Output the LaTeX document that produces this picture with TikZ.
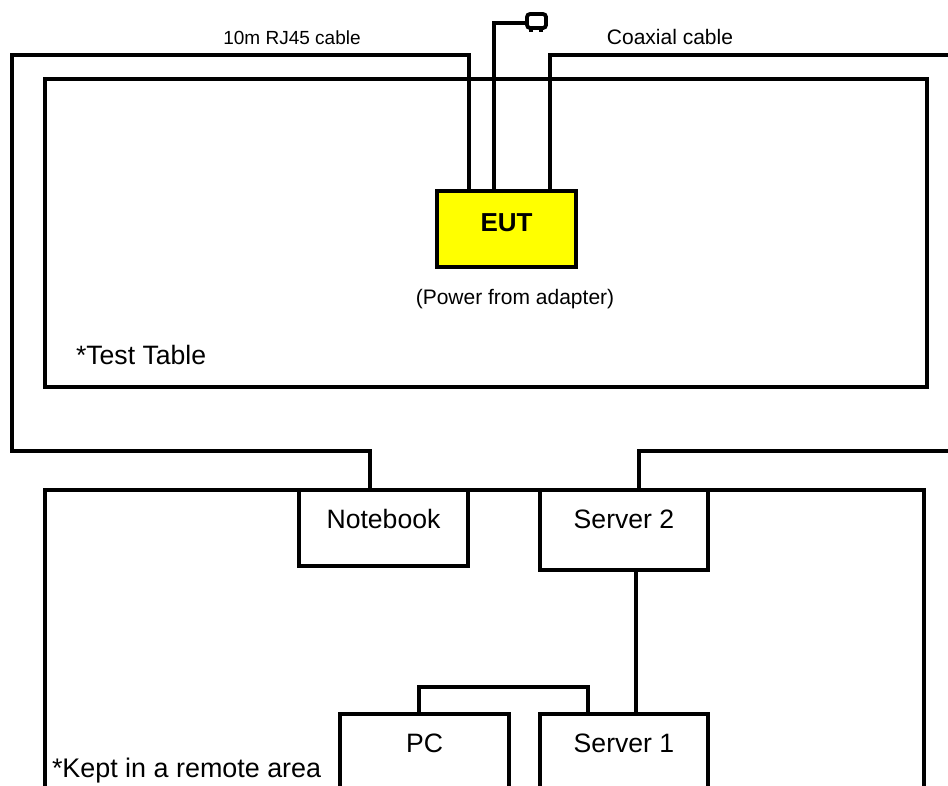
\documentclass[tikz,border=0pt]{standalone}
\usepackage{fontspec}
\setmainfont{Liberation Sans}
\usetikzlibrary{positioning,calc}
\definecolor{eutyellow}{RGB}{255,255,0}
\begin{document}
\begin{tikzpicture}[x=1pt,y=-1pt,line width=3.4pt,line join=miter,
    box/.style={draw=black,line width=3.4pt,anchor=north west,inner sep=0pt,outer sep=0pt,align=center,text height=10pt,font=\fontsize{26.6}{30}\selectfont},
    lbl/.style={inner sep=0pt,outer sep=0pt,anchor=base,font=\fontsize{20}{24}\selectfont}]
    \useasboundingbox (0,0) rectangle (948,785);
    \begin{scope}
    \clip (0,0) rectangle (948,785);
    \node[box,minimum width=882pt,minimum height=308pt] (table) at (45,79) {};
    \node[box,minimum width=879pt,minimum height=340pt] (remote) at (45,490) {};
    \node[box,fill=eutyellow,minimum width=139pt,minimum height=76pt,font=\fontsize{26}{30}\selectfont\bfseries,text depth=6pt] (eut) at (437,191) {EUT};
    \node[box,fill=white,minimum width=169pt,minimum height=76pt,text depth=10pt] (notebook) at (299,490) {Notebook};
    \node[box,fill=white,minimum width=168pt,minimum height=80pt,text depth=14pt] (server2) at (540,490) {Server 2};
    \node[box,fill=white,minimum width=169pt,minimum height=100pt,text depth=34pt] (pc) at (340,714) {PC};
    \node[box,fill=white,minimum width=168pt,minimum height=100pt,text depth=34pt] (server1) at (540,714) {Server 1};
    \coordinate (rjtop) at (469,55);
    \coordinate (rjleft) at (12,55);
    \coordinate (rjbot) at (12,451);
    \coordinate (coaxtop) at (550,55);
    \coordinate (coaxend) at (948,55);
    \coordinate (srvend) at (948,451);
    \coordinate (plug) at (527,23);
    \draw (rjtop |- eut.north) -- (rjtop) -- (rjleft) -- (rjbot) -| (370,490);
    \draw (coaxtop |- eut.north) -- (coaxtop) -- (coaxend);
    \draw (494,191) -- (494,23) -- (plug);
    \draw (639,490) -- (639,451) -- (srvend);
    \draw (636,570) -- (636,714);
    \draw (419,714) -- (419,687) -- (588,687) -- (588,714);
    \draw[line width=3.4pt] (531,28) -- (531,32);
    \draw[line width=3.4pt] (541,28) -- (541,32);
    \draw[fill=white,line width=3.8pt,rounded corners=3pt] (527,14) rectangle (546,28);
    \end{scope}
    \node[lbl,font=\fontsize{19}{23}\selectfont] (rjlabel) at (292,44) {10m RJ45 cable};
    \node[lbl,font=\fontsize{21}{25}\selectfont] (coaxlabel) at (670,44) {Coaxial cable};
    \node[lbl,font=\fontsize{21}{25}\selectfont] (adapter) at (515,304) {(Power from adapter)};
    \node[lbl,anchor=base west,font=\fontsize{26.6}{30}\selectfont] (testtable) at (76,364) {*Test Table};
    \node[lbl,anchor=base west,font=\fontsize{26.9}{30}\selectfont] (keptarea) at (52,777) {*Kept in a remote area};
\end{tikzpicture}
\end{document}
